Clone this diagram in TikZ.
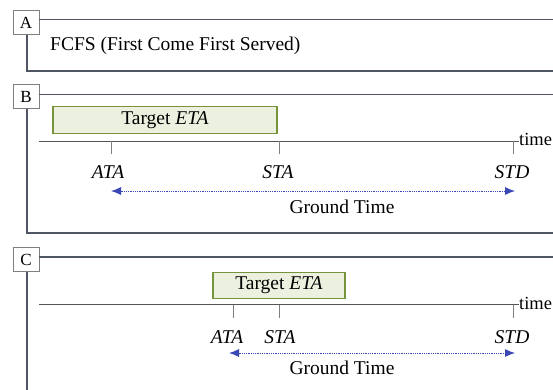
\documentclass[tikz,border=0pt]{standalone}
\usepackage{fontspec}
\setmainfont{Liberation Serif}
\usetikzlibrary{arrows.meta}

\definecolor{framecol}{HTML}{4F5562}
\definecolor{axiscol}{HTML}{555555}
\definecolor{tickcol}{HTML}{7F7F7F}
\definecolor{etafill}{HTML}{EBF1DE}
\definecolor{etadraw}{HTML}{77933C}
\definecolor{gtblue}{HTML}{3B47B5}

\tikzset{
  labelbox/.style={draw=tickcol, line width=0.8pt, fill=white, inner sep=0pt,
    minimum width=26pt, minimum height=24pt, font=\fontsize{17}{17}\selectfont},
  frameline/.style={draw=framecol, line width=1.6pt},
  axisline/.style={draw=axiscol, line width=1pt},
  tickline/.style={draw=tickcol, line width=1pt},
  etabox/.style={draw=etadraw, line width=1.3pt, fill=etafill, inner sep=0pt,
    minimum height=26.5pt, font=\fontsize{19.5}{19.5}\selectfont},
  txt/.style={inner sep=0pt, font=\fontsize{19.5}{19.5}\selectfont},
  evt/.style={txt, font=\fontsize{19.5}{19.5}\selectfont\itshape},
  timelbl/.style={inner sep=0pt, anchor=west, font=\fontsize{18.5}{18.5}\selectfont},
  gtarrow/.style={draw=gtblue, line width=0.9pt, dash pattern=on 1pt off 0.8pt,
    {Latex[length=10pt,width=8pt]}-{Latex[length=10pt,width=8pt]}}
}

\begin{document}
\begin{tikzpicture}[x=1pt,y=-1pt]
\clip (0,0) rectangle (553,389);
\fill[white] (0,0) rectangle (553,389);

% ---------- panel A ----------
\coordinate (aTop) at (570,19.5);
\coordinate (aBot) at (570,71);
\draw[frameline] (27,33) |- (aBot);
\node[labelbox] (la) at (26,22.5) {A};
\draw[frameline] (la.east |- aTop) -- (aTop);
\node[txt, anchor=west] (fcfs) at (50,45.5) {FCFS (First Come First Served)};

% ---------- panel B ----------
\coordinate (bTop) at (570,94.5);
\coordinate (bBot) at (570,233);
\draw[frameline] (27,108) |- (bBot);
\node[labelbox] (lb) at (26,96.5) {B};
\draw[frameline] (lb.east |- bTop) -- (bTop);
\node[etabox, minimum width=224pt] (etaB) at (165,120) {Target \textit{ETA}};

\coordinate (bAx) at (39,141);
\node[timelbl] (timeB) at (519,139.5) {time};
\draw[axisline] (bAx) -- (timeB.west |- bAx);

\coordinate (bATA) at (111,141);
\coordinate (bSTA) at (279,141);
\coordinate (bSTD) at (513,141);
\draw[tickline] (bATA) -- ++(0,13);
\draw[tickline] (bSTA) -- ++(0,13);
\draw[tickline] (bSTD) -- ++(0,13);
\node[evt] (ataB) at (108,172) {ATA};
\node[evt] (staB) at (278,172) {STA};
\node[evt] (stdB) at (512,172) {STD};

\coordinate (bGL) at (111,191);
\coordinate (bGR) at (515,191);
\draw[gtarrow] (bGL) -- (bGR);
\node[txt] (gtB) at (342,207) {Ground Time};

% ---------- panel C ----------
\coordinate (cTop) at (570,257);
\coordinate (cBot) at (27,400);
\draw[frameline] (27,270) -- (cBot);
\node[labelbox] (lc) at (26,259.5) {C};
\draw[frameline] (lc.east |- cTop) -- (cTop);
\node[etabox, minimum width=132pt] (etaC) at (279,285.5) {Target \textit{ETA}};

\coordinate (cAx) at (39,304.5);
\node[timelbl] (timeC) at (519,303) {time};
\draw[axisline] (cAx) -- (timeC.west |- cAx);

\coordinate (cATA) at (233,304.5);
\coordinate (cSTA) at (279,304.5);
\coordinate (cSTD) at (513,304.5);
\draw[tickline] (cATA) -- ++(0,13);
\draw[tickline] (cSTA) -- ++(0,13);
\draw[tickline] (cSTD) -- ++(0,13);
\node[evt] (ataC) at (227,337) {ATA};
\node[evt] (staC) at (280,337) {STA};
\node[evt] (stdC) at (512,337) {STD};

\coordinate (cGL) at (229,353);
\coordinate (cGR) at (515,353);
\draw[gtarrow] (cGL) -- (cGR);
\node[txt] (gtC) at (342,368) {Ground Time};
\end{tikzpicture}
\end{document}
